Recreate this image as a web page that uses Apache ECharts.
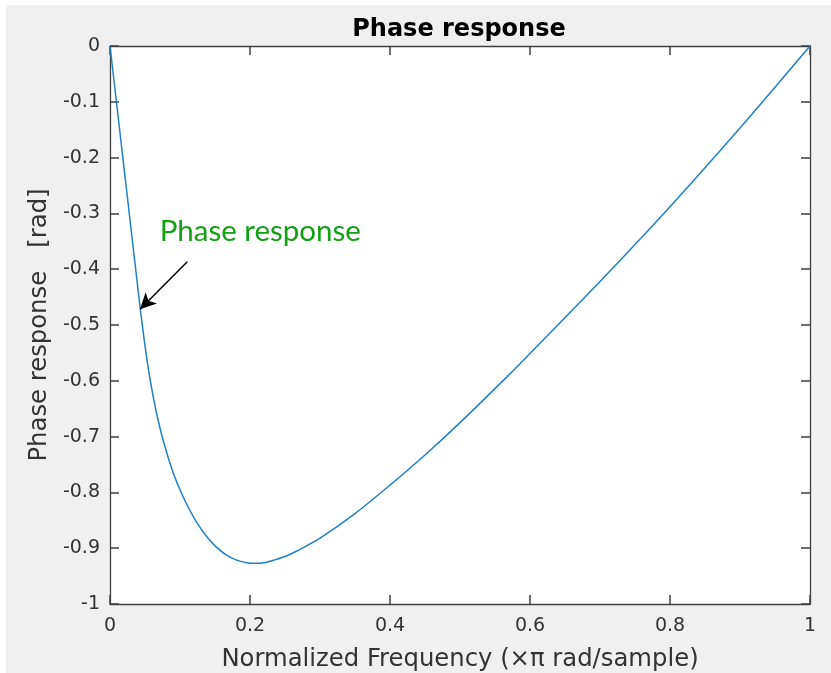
<!DOCTYPE html>
<html>
<head>
<meta charset="utf-8">
<script src="https://cdn.jsdelivr.net/npm/echarts@6/dist/echarts.min.js"></script>
<style>
  html, body { margin: 0; padding: 0; background: #ffffff; width: 831px; height: 673px; overflow: hidden; }
  #chart { position: absolute; left: 6px; top: 5px; width: 825px; height: 668px; }
</style>
</head>
<body>
<div id="chart"></div>
<script>
// Data
const freq  = [0, 0.02, 0.04, 0.046, 0.052, 0.058, 0.066, 0.076, 0.09, 0.102, 0.114, 0.125, 0.138, 0.152, 0.165, 0.18, 0.195, 0.207, 0.22, 0.235, 0.25, 0.267, 0.3, 0.35, 0.4, 0.45, 0.5, 0.571, 0.6, 0.7, 0.8, 0.9, 1.0];
const phase = [0, -0.218, -0.436, -0.499, -0.555, -0.603, -0.655, -0.707, -0.764, -0.801, -0.832, -0.856, -0.879, -0.898, -0.911, -0.921, -0.926, -0.927, -0.926, -0.921, -0.915, -0.905, -0.882, -0.838, -0.787, -0.733, -0.675, -0.588, -0.551, -0.422, -0.288, -0.147, 0];
const xTicks = { min: 0, max: 1, interval: 0.2 };
const yTicks = { min: -1, max: 0, interval: 0.1 };
const titleText = 'Phase response';
const xName = 'Normalized Frequency (\u00D7\u03C0 rad/sample)';
const yName = 'Phase response   [rad]';
const annotText = 'Phase response';
const arrowStart = [0.1104, -0.3866];
const arrowEnd = [0.0429, -0.4718];
const annotPos = [0.071, -0.333];

const seriesData = freq.map((f, i) => [f, phase[i]]);

const axisColor = '#404040';
const labelColor = '#333333';
const fontFam = 'DejaVu Sans';

const chart = echarts.init(document.getElementById('chart'), null, { renderer: 'canvas' });
const fmt = v => String(+(+v).toFixed(1));

function axLine() { return { show: true, onZero: false, lineStyle: { color: axisColor, width: 1.3 } }; }
function axTick() { return { show: true, inside: true, length: 9, lineStyle: { color: axisColor, width: 1.5 } }; }

chart.setOption({
  backgroundColor: '#f0f0f0',
  animation: false,
  title: {
    text: titleText,
    left: 448,
    top: 8,
    textAlign: 'center',
    textStyle: { fontFamily: fontFam, fontWeight: 'bold', fontSize: 24, color: '#000000' }
  },
  grid: { left: 104, top: 41, right: 21, bottom: 69, show: false, outerBoundsMode: 'none', containLabel: false },
  xAxis: [
    {
      type: 'value', min: xTicks.min, max: xTicks.max, interval: xTicks.interval, position: 'bottom', gridIndex: 0,
      axisLine: axLine(), axisTick: axTick(), splitLine: { show: false },
      axisLabel: { formatter: fmt, fontFamily: fontFam, fontSize: 19, color: labelColor, margin: 13 },
      name: xName, nameLocation: 'middle', nameGap: 44,
      nameTextStyle: { fontFamily: fontFam, fontSize: 24.3, color: labelColor }
    },
    {
      type: 'value', min: xTicks.min, max: xTicks.max, interval: xTicks.interval, position: 'top', gridIndex: 0,
      axisLine: axLine(), axisTick: axTick(), splitLine: { show: false }, axisLabel: { show: false }
    }
  ],
  yAxis: [
    {
      type: 'value', min: yTicks.min, max: yTicks.max, interval: yTicks.interval, position: 'left', gridIndex: 0,
      axisLine: axLine(), axisTick: axTick(), splitLine: { show: false },
      axisLabel: { formatter: fmt, fontFamily: fontFam, fontSize: 19, color: labelColor, margin: 10 },
      name: yName, nameLocation: 'middle', nameGap: 57, nameRotate: 90,
      nameTextStyle: { fontFamily: fontFam, fontSize: 24.3, color: labelColor }
    },
    {
      type: 'value', min: yTicks.min, max: yTicks.max, interval: yTicks.interval, position: 'right', gridIndex: 0,
      axisLine: axLine(), axisTick: axTick(), splitLine: { show: false }, axisLabel: { show: false }
    }
  ],
  series: [
    {
      type: 'line',
      data: seriesData,
      xAxisIndex: 0, yAxisIndex: 0,
      showSymbol: false,
      smooth: 0.3,
      lineStyle: { color: '#1f80c8', width: 1.5 },
      z: 3,
      markLine: {
        silent: true,
        symbol: ['none', 'arrow'],
        symbolSize: [12, 16],
        lineStyle: { color: '#000000', width: 1.5, type: 'solid' },
        label: { show: false },
        data: [[{ coord: arrowStart }, { coord: arrowEnd }]]
      },
      markPoint: {
        silent: true,
        symbol: 'circle',
        symbolSize: 0,
        data: [{
          coord: annotPos,
          label: {
            show: true, formatter: annotText, position: 'right', distance: 0,
            fontFamily: 'Lato', fontSize: 29.5, color: '#13a013'
          }
        }]
      }
    }
  ]
});

// White plot-area background, placed from the axes' own scale
const p0 = chart.convertToPixel({ gridIndex: 0 }, [xTicks.min, yTicks.max]);
const p1 = chart.convertToPixel({ gridIndex: 0 }, [xTicks.max, yTicks.min]);
chart.setOption({
  graphic: [{
    type: 'rect', z: -10, silent: true,
    shape: { x: p0[0], y: p0[1], width: p1[0] - p0[0], height: p1[1] - p0[1] },
    style: { fill: '#ffffff' }
  }]
});
</script>
</body>
</html>
